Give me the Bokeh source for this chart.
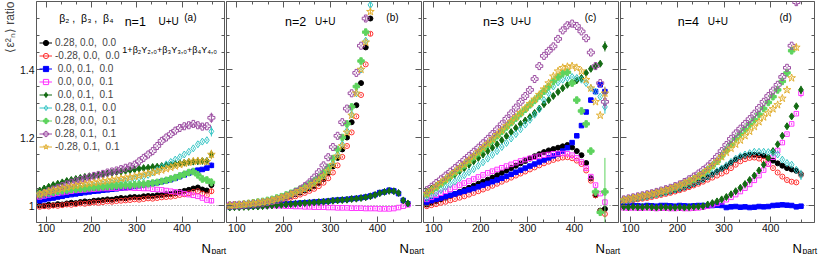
import numpy as np
from bokeh.plotting import figure
from bokeh.models import (Range1d, FixedTicker, LinearAxis, Label, Legend, LegendItem,
                          Span, ColumnDataSource, NumeralTickFormatter, Title)
from bokeh.layouts import row, column
from bokeh.embed import file_html
from bokeh.resources import INLINE

N = None
FONT = "Liberation Sans"
FRAME = "#5a5a5a"

npart = [85, 95, 105, 115, 125, 135, 145, 155, 165, 175, 185, 195, 205, 215, 225,
         235, 245, 255, 265, 275, 285, 295, 305, 315, 325, 335, 345, 355, 365, 375,
         385, 395, 405, 415, 425, 435, 445, 455, 465]

x_ticks = [100, 200, 300, 400]
y_ticks = [1.0, 1.2, 1.4]

beta_labels = ["0.28, 0.0,\u00a0\u00a00.0", "-0.28, 0.0,\u00a0\u00a00.0", "\u00a00.0, 0.1,\u00a0\u00a00.0",
               "\u00a00.0, 0.0,\u00a0\u00a00.1", "\u00a00.0, 0.1,\u00a0\u00a00.1", "0.28, 0.1,\u00a0\u00a00.0",
               "0.28, 0.0,\u00a0\u00a00.1", "0.28, 0.1,\u00a0\u00a00.1", "-0.28, 0.1,\u00a0\u00a00.1"]
colors = ["#000000", "#ff3030", "#0000ff", "#ff33ff", "#136b13", "#33c4c4", "#5ed35e", "#9c4ea2", "#e2b032"]
markers = ["circle", "circle", "square", "square", "diamond", "diamond", "plus", "plus", "star"]
filled = [True, False, True, False, True, False, True, False, False]
sizes = [5, 5, 4.5, 4.5, 7, 7, 6.5, 7, 8]

# ---- n = 1 ----
n1_s1 = [1.000, 0.999, 1.002, 1.001, 1.004, 1.003, 1.006, 1.008, 1.007, 1.010, 1.012, 1.011, 1.014, 1.015, 1.016, 1.018, 1.017, 1.020, 1.022, 1.021, 1.024, 1.025, 1.024, 1.027, 1.028, 1.028, 1.030, 1.031, 1.033, 1.034, 1.036, 1.040, 1.043, 1.046, 1.050, 1.053, 1.047, 1.044, 1.060]
n1_s2 = [0.996, 0.998, 0.997, 1.000, 0.999, 1.001, 1.003, 1.002, 1.004, 1.006, 1.005, 1.007, 1.009, 1.008, 1.010, 1.012, 1.011, 1.013, 1.014, 1.015, 1.016, 1.018, 1.017, 1.019, 1.021, 1.020, 1.022, 1.024, 1.025, 1.026, 1.028, 1.031, 1.033, 1.036, 1.040, 1.042, 1.035, 1.030, 1.042]
n1_s3 = [1.014, 1.017, 1.020, 1.022, 1.025, 1.027, 1.030, 1.032, 1.034, 1.036, 1.038, 1.040, 1.042, 1.043, 1.045, 1.046, 1.048, 1.049, 1.051, 1.052, 1.054, 1.056, 1.058, 1.060, 1.062, 1.065, 1.067, 1.070, 1.073, 1.076, 1.080, 1.085, 1.090, 1.095, 1.100, 1.104, 1.106, 1.110, 1.118]
n1_s4 = [1.025, 1.028, 1.031, 1.034, 1.036, 1.038, 1.040, 1.042, 1.044, 1.045, 1.046, 1.047, 1.048, 1.049, 1.050, 1.050, 1.051, 1.051, 1.052, 1.052, 1.052, 1.051, 1.051, 1.050, 1.050, 1.048, 1.047, 1.046, 1.044, 1.042, 1.040, 1.038, 1.035, 1.032, 1.030, 1.027, 1.022, 1.016, 1.014]
n1_s5 = [1.044, 1.050, 1.055, 1.060, 1.064, 1.068, 1.072, 1.075, 1.078, 1.081, 1.084, 1.086, 1.088, 1.090, 1.092, 1.094, 1.096, 1.098, 1.100, 1.102, 1.104, 1.106, 1.108, 1.110, 1.111, 1.113, 1.114, 1.116, 1.118, 1.120, 1.122, 1.124, 1.126, 1.128, 1.129, 1.130, 1.131, 1.131, 1.150]
n1_s6 = [1.029, 1.032, 1.035, 1.038, 1.040, 1.043, 1.045, 1.047, 1.050, 1.052, 1.054, 1.056, 1.058, 1.060, 1.062, 1.064, 1.066, 1.068, 1.070, 1.073, 1.076, 1.079, 1.082, 1.085, 1.090, 1.097, 1.105, 1.113, 1.121, 1.128, 1.135, 1.142, 1.150, 1.158, 1.168, 1.180, 1.188, 1.192, 1.218]
n1_s7 = [1.034, 1.036, 1.038, 1.040, 1.042, 1.044, 1.046, 1.047, 1.048, 1.049, 1.050, 1.052, 1.053, 1.054, 1.055, 1.056, 1.057, 1.058, 1.059, 1.060, 1.060, 1.061, 1.062, 1.063, 1.064, 1.066, 1.068, 1.071, 1.074, 1.078, 1.082, 1.087, 1.092, 1.097, 1.100, 1.090, 1.078, 1.075, 1.068]
n1_s8 = [1.030, 1.036, 1.042, 1.047, 1.052, 1.057, 1.062, 1.067, 1.071, 1.075, 1.079, 1.083, 1.087, 1.090, 1.093, 1.097, 1.100, 1.103, 1.107, 1.111, 1.115, 1.120, 1.130, 1.140, 1.150, 1.160, 1.175, 1.190, 1.200, 1.210, 1.220, 1.228, 1.233, 1.236, 1.240, 1.236, 1.232, 1.233, 1.258]
n1_s9 = [1.033, 1.037, 1.041, 1.044, 1.047, 1.050, 1.053, 1.056, 1.058, 1.061, 1.063, 1.065, 1.067, 1.069, 1.071, 1.073, 1.075, 1.077, 1.079, 1.081, 1.083, 1.085, 1.088, 1.091, 1.094, 1.097, 1.100, 1.104, 1.108, 1.112, 1.116, 1.120, 1.124, 1.127, 1.130, 1.131, 1.130, 1.129, 1.150]

# ---- n = 2 ----
n2_s1 = [1.000, 1.000, 1.002, 1.002, 1.004, 1.005, 1.007, 1.009, 1.011, 1.014, 1.017, 1.020, 1.024, 1.028, 1.033, 1.038, 1.044, 1.050, 1.057, 1.066, 1.078, 1.095, 1.115, 1.140, 1.165, 1.200, 1.245, 1.295, 1.360, 1.465, 1.550, N, N, N, N, N, N, N, N]
n2_s2 = [0.997, 0.998, 0.999, 1.000, 1.001, 1.002, 1.004, 1.006, 1.008, 1.010, 1.013, 1.016, 1.019, 1.023, 1.027, 1.032, 1.037, 1.043, 1.049, 1.057, 1.067, 1.080, 1.097, 1.118, 1.143, 1.175, 1.215, 1.262, 1.325, 1.415, 1.505, N, N, N, N, N, N, N, N]
n2_s3 = [0.996, 0.997, 0.997, 0.998, 0.998, 0.999, 0.999, 1.000, 1.000, 1.001, 1.002, 1.003, 1.004, 1.005, 1.006, 1.007, 1.008, 1.009, 1.010, 1.011, 1.012, 1.013, 1.015, 1.016, 1.017, 1.018, 1.020, 1.021, 1.023, 1.025, 1.028, 1.032, 1.038, 1.040, 1.045, 1.043, 1.035, 1.015, 1.005]
n2_s4 = [1.002, 1.003, 1.003, 1.003, 1.002, 1.002, 1.001, 1.001, 1.000, 1.000, 0.999, 0.999, 0.998, 0.998, 0.997, 0.997, 0.996, 0.996, 0.995, 0.995, 0.995, 0.994, 0.994, 0.993, 0.993, 0.993, 0.992, 0.992, 0.992, 0.991, 0.991, 0.991, 0.990, 0.990, 0.990, 0.991, 0.994, 0.998, 1.002]
n2_s5 = [0.994, 0.995, 0.995, 0.996, 0.996, 0.997, 0.997, 0.998, 0.999, 1.000, 1.001, 1.002, 1.003, 1.004, 1.005, 1.006, 1.007, 1.008, 1.009, 1.010, 1.011, 1.012, 1.014, 1.015, 1.016, 1.017, 1.019, 1.020, 1.022, 1.024, 1.027, 1.031, 1.036, 1.040, 1.043, 1.042, 1.037, 1.015, 1.006]
n2_s6 = [1.001, 1.001, 1.002, 1.004, 1.005, 1.007, 1.009, 1.011, 1.013, 1.016, 1.020, 1.024, 1.028, 1.033, 1.038, 1.044, 1.050, 1.057, 1.066, 1.076, 1.088, 1.104, 1.124, 1.150, 1.180, 1.220, 1.268, 1.330, 1.400, 1.485, 1.590, N, N, N, N, N, N, N, N]
n2_s7 = [1.001, 1.002, 1.003, 1.004, 1.006, 1.008, 1.010, 1.012, 1.015, 1.018, 1.022, 1.026, 1.031, 1.036, 1.042, 1.048, 1.055, 1.063, 1.072, 1.083, 1.096, 1.112, 1.138, 1.165, 1.200, 1.240, 1.290, 1.350, 1.425, 1.510, N, N, N, N, N, N, N, N, N]
n2_s8 = [1.000, 1.001, 1.001, 1.002, 1.003, 1.005, 1.006, 1.008, 1.010, 1.013, 1.017, 1.021, 1.026, 1.032, 1.039, 1.047, 1.057, 1.068, 1.082, 1.098, 1.118, 1.142, 1.172, 1.205, 1.245, 1.285, 1.330, 1.390, 1.470, 1.550, N, N, N, N, N, N, N, N, N]
n2_s9 = [1.000, 1.001, 1.002, 1.003, 1.005, 1.006, 1.008, 1.010, 1.012, 1.015, 1.019, 1.023, 1.027, 1.032, 1.037, 1.043, 1.049, 1.056, 1.064, 1.074, 1.086, 1.101, 1.120, 1.145, 1.175, 1.215, 1.265, 1.330, 1.400, 1.480, 1.570, N, N, N, N, N, N, N, N]

# ---- n = 3 ----
n3_s1 = [1.003, 1.008, 1.013, 1.018, 1.023, 1.028, 1.034, 1.040, 1.046, 1.052, 1.058, 1.064, 1.070, 1.076, 1.082, 1.089, 1.096, 1.103, 1.110, 1.117, 1.124, 1.131, 1.138, 1.145, 1.151, 1.157, 1.162, 1.166, 1.170, 1.174, 1.178, 1.171, 1.160, 1.148, 1.125, 1.080, 1.030, 0.985, 0.990]
n3_s2 = [0.998, 1.001, 1.004, 1.008, 1.011, 1.015, 1.019, 1.023, 1.027, 1.032, 1.037, 1.042, 1.047, 1.052, 1.058, 1.064, 1.070, 1.076, 1.082, 1.088, 1.094, 1.100, 1.106, 1.112, 1.118, 1.124, 1.129, 1.134, 1.138, 1.141, 1.142, 1.139, 1.132, 1.122, 1.103, 1.073, 1.030, 0.983, 0.975]
n3_s3 = [1.010, 1.014, 1.018, 1.022, 1.026, 1.030, 1.034, 1.038, 1.042, 1.046, 1.050, 1.055, 1.060, 1.065, 1.070, 1.075, 1.080, 1.086, 1.092, 1.098, 1.104, 1.110, 1.116, 1.122, 1.128, 1.134, 1.140, 1.146, 1.152, 1.160, 1.170, 1.185, 1.205, 1.235, 1.275, 1.310, 1.335, 1.355, 1.335]
n3_s4 = [1.018, 1.024, 1.030, 1.036, 1.042, 1.048, 1.054, 1.060, 1.066, 1.072, 1.078, 1.084, 1.090, 1.096, 1.101, 1.106, 1.111, 1.116, 1.121, 1.126, 1.131, 1.135, 1.139, 1.142, 1.145, 1.148, 1.150, 1.152, 1.153, 1.153, 1.152, 1.148, 1.140, 1.128, 1.110, 1.085, 1.060, 1.035, 1.010]
n3_s5 = [1.040, 1.050, 1.058, 1.066, 1.074, 1.083, 1.092, 1.101, 1.110, 1.120, 1.130, 1.140, 1.150, 1.160, 1.170, 1.180, 1.192, 1.204, 1.216, 1.228, 1.240, 1.250, 1.260, 1.272, 1.285, 1.298, 1.310, 1.322, 1.334, 1.345, 1.355, 1.362, 1.368, 1.375, 1.390, 1.402, 1.410, 1.417, 1.468]
n3_s6 = [1.022, 1.030, 1.038, 1.046, 1.054, 1.062, 1.071, 1.080, 1.089, 1.098, 1.107, 1.117, 1.127, 1.138, 1.149, 1.160, 1.172, 1.184, 1.197, 1.210, 1.224, 1.238, 1.252, 1.267, 1.283, 1.310, 1.330, 1.350, 1.362, 1.370, 1.375, 1.378, 1.375, 1.370, 1.360, 1.345, 1.335, 1.320, 1.290]
n3_s7 = [1.034, 1.044, 1.054, 1.064, 1.075, 1.086, 1.097, 1.108, 1.119, 1.131, 1.143, 1.155, 1.167, 1.180, 1.192, 1.205, 1.218, 1.231, 1.244, 1.257, 1.270, 1.283, 1.296, 1.309, 1.322, 1.336, 1.350, 1.365, 1.378, 1.388, 1.392, 1.360, 1.310, 1.278, 1.240, 1.160, 1.040, 0.980, 1.040]
n3_s8 = [1.045, 1.055, 1.066, 1.077, 1.088, 1.099, 1.110, 1.122, 1.134, 1.146, 1.158, 1.170, 1.183, 1.196, 1.210, 1.224, 1.239, 1.255, 1.271, 1.288, 1.305, 1.322, 1.340, 1.372, 1.410, 1.440, 1.455, 1.468, 1.490, 1.515, 1.530, 1.535, 1.528, 1.512, 1.492, 1.450, 1.410, 1.360, 1.305]
n3_s9 = [1.035, 1.045, 1.056, 1.067, 1.077, 1.088, 1.099, 1.110, 1.121, 1.133, 1.145, 1.157, 1.170, 1.182, 1.195, 1.208, 1.221, 1.234, 1.247, 1.260, 1.273, 1.286, 1.299, 1.312, 1.326, 1.342, 1.360, 1.380, 1.395, 1.405, 1.408, 1.410, 1.405, 1.395, 1.370, 1.345, 1.305, 1.265, 1.330]

# ---- n = 4 ----
n4_s1 = [1.015, 1.017, 1.019, 1.021, 1.023, 1.026, 1.029, 1.032, 1.035, 1.038, 1.041, 1.045, 1.049, 1.053, 1.058, 1.063, 1.069, 1.076, 1.083, 1.091, 1.099, 1.107, 1.115, 1.125, 1.135, 1.142, 1.146, 1.149, 1.149, 1.148, 1.146, 1.140, 1.132, 1.124, 1.117, 1.110, 1.106, 1.102, 1.092]
n4_s2 = [1.012, 1.014, 1.016, 1.018, 1.020, 1.022, 1.025, 1.028, 1.031, 1.034, 1.037, 1.041, 1.045, 1.049, 1.054, 1.059, 1.064, 1.070, 1.076, 1.082, 1.088, 1.094, 1.100, 1.110, 1.120, 1.130, 1.136, 1.140, 1.141, 1.138, 1.132, 1.122, 1.110, 1.097, 1.085, 1.075, 1.070, 1.068, 1.090]
n4_s3 = [0.999, 0.998, 1.000, 0.999, 0.998, 1.000, 0.999, 0.998, 1.000, 1.000, 0.999, 0.998, 1.000, 0.999, 0.998, 0.999, 1.000, 1.000, 0.999, 1.000, 1.001, 1.000, 0.994, 0.996, 0.997, 0.995, 0.996, 0.994, 0.995, 0.997, 0.996, 0.997, 1.000, 1.001, 1.002, 1.001, 1.000, 0.996, 0.998]
n4_s4 = [0.993, 0.992, 0.993, 0.992, 0.992, 0.993, 0.992, 0.991, 0.992, 0.992, 0.991, 0.991, 0.992, 0.991, 0.991, 0.992, 0.993, 0.995, 0.998, 1.002, 1.006, 1.011, 1.017, 1.024, 1.032, 1.041, 1.051, 1.062, 1.074, 1.088, 1.104, 1.122, 1.142, 1.162, 1.185, 1.210, 1.240, 1.270, 1.330]
n4_s5 = [0.996, 0.995, 0.996, 0.995, 0.995, 0.996, 0.995, 0.994, 0.995, 0.995, 0.994, 0.994, 0.995, 0.994, 0.995, 0.996, 0.997, 0.998, 1.003, 1.007, 1.012, 1.018, 1.025, 1.033, 1.042, 1.052, 1.063, 1.075, 1.088, 1.103, 1.120, 1.140, 1.160, 1.180, 1.205, 1.233, 1.262, 1.292, 1.340]
n4_s6 = [1.016, 1.018, 1.020, 1.022, 1.024, 1.027, 1.030, 1.033, 1.036, 1.039, 1.043, 1.047, 1.051, 1.055, 1.060, 1.065, 1.071, 1.078, 1.085, 1.093, 1.101, 1.109, 1.118, 1.128, 1.138, 1.145, 1.150, 1.154, 1.158, 1.158, 1.158, 1.157, 1.155, 1.150, 1.135, 1.125, 1.120, 1.105, 1.090]
n4_s7 = [1.017, 1.019, 1.022, 1.025, 1.028, 1.031, 1.034, 1.037, 1.041, 1.045, 1.049, 1.054, 1.059, 1.065, 1.071, 1.078, 1.086, 1.095, 1.105, 1.117, 1.130, 1.146, 1.163, 1.180, 1.196, 1.210, 1.224, 1.238, 1.252, 1.268, 1.285, 1.303, 1.320, 1.340, 1.365, 1.390, 1.455, N, N]
n4_s8 = [1.018, 1.021, 1.024, 1.027, 1.030, 1.033, 1.036, 1.040, 1.044, 1.048, 1.052, 1.057, 1.062, 1.069, 1.077, 1.085, 1.094, 1.104, 1.115, 1.128, 1.143, 1.160, 1.178, 1.196, 1.212, 1.226, 1.240, 1.254, 1.270, 1.287, 1.305, 1.322, 1.338, 1.355, 1.378, 1.405, 1.470, 1.598, N]
n4_s9 = [1.016, 1.019, 1.022, 1.025, 1.028, 1.031, 1.034, 1.037, 1.041, 1.045, 1.049, 1.054, 1.059, 1.065, 1.071, 1.078, 1.085, 1.094, 1.105, 1.117, 1.130, 1.143, 1.156, 1.168, 1.180, 1.192, 1.205, 1.218, 1.232, 1.246, 1.260, 1.272, 1.284, 1.296, 1.315, 1.340, 1.375, 1.465, N]

# error of the last point of each series (other points: ERR_BASE)
ERR_BASE = 0.003
err_end_n1 = [0.008, 0.008, 0.008, 0.007, 0.012, 0.015, 0.012, 0.015, 0.014]
err_end_n2 = [0.006, 0.006, 0.006, 0.006, 0.006, 0.008, 0.008, 0.008, 0.008]
err_end_n3 = [0.010, 0.010, 0.012, 0.010, 0.015, 0.020, 0.100, 0.020, 0.020]
err_end_n4 = [0.010, 0.010, 0.006, 0.012, 0.012, 0.015, 0.010, 0.010, 0.010]

panel_series = [
    [n1_s1, n1_s2, n1_s3, n1_s4, n1_s5, n1_s6, n1_s7, n1_s8, n1_s9],
    [n2_s1, n2_s2, n2_s3, n2_s4, n2_s5, n2_s6, n2_s7, n2_s8, n2_s9],
    [n3_s1, n3_s2, n3_s3, n3_s4, n3_s5, n3_s6, n3_s7, n3_s8, n3_s9],
    [n4_s1, n4_s2, n4_s3, n4_s4, n4_s5, n4_s6, n4_s7, n4_s8, n4_s9],
]
panel_err = [err_end_n1, err_end_n2, err_end_n3, err_end_n4]
panel_n = ["n=1", "n=2", "n=3", "n=4"]
panel_tag = ["(a)", "(b)", "(c)", "(d)"]
n_x = [273, 203, 205, 201]
uu_x = [348, 267, 264, 265]
tag_x = [405, 419, 422, 419]

# x titles (N_part) in the strip under the panels: pixel positions in that strip
ntitle_x = [201, 399, 595, 792]
part_x = [211, 409, 605, 802]

X_RANGE = (78, 494)
Y_RANGE = (0.95, 1.6)
x_minor = [100 + 100 * k / 3 for k in range(-1, 13)]
y_minor = [round(0.95 + 0.05 * k, 2) for k in range(14)]

# figure geometry: (width, border_left, border_right)
geom = [(225, 29, 1), (197, 1, 1), (197, 1, 1), (196, 1, 1)]
PANEL_H = 235
STRIP_H = 19


def tick_style(ax):
    ax.major_tick_out = 0
    ax.minor_tick_out = 0
    ax.axis_line_color = None
    ax.major_tick_line_color = FRAME
    ax.minor_tick_line_color = FRAME


def labelled_axis(ax, ticks, minor):
    ax.ticker = FixedTicker(ticks=ticks, minor_ticks=minor)
    tick_style(ax)
    ax.major_tick_in = 6
    ax.minor_tick_in = 3
    ax.major_label_text_font = FONT
    ax.major_label_text_font_size = "10.5px"
    ax.major_label_text_color = "#111111"
    ax.major_label_standoff = 1


def bare_axes(p, side, ticks, minor, existing=None):
    # tick marks only, no label texts: long marks at the main ticks, short ones between
    long_ax = existing if existing is not None else LinearAxis()
    long_ax.ticker = FixedTicker(ticks=[], minor_ticks=ticks)
    tick_style(long_ax)
    long_ax.minor_tick_in = 6
    long_ax.major_label_standoff = 0
    short_ax = LinearAxis(ticker=FixedTicker(ticks=[], minor_ticks=minor))
    tick_style(short_ax)
    short_ax.minor_tick_in = 3
    short_ax.major_label_standoff = 0
    if existing is None:
        p.add_layout(long_ax, side)
    p.add_layout(short_ax, side)


def label(p, x, y, text, size, align="left"):
    p.add_layout(Label(x=x, y=y, text=text, text_font=FONT, text_font_size=size,
                       text_color="black", text_align=align, text_baseline="alphabetic"))


figs = []
for k in range(4):
    w, bl, br = geom[k]
    p = figure(width=w, height=PANEL_H, x_range=Range1d(*X_RANGE), y_range=Range1d(*Y_RANGE),
               output_backend="svg", toolbar_location=None,
               min_border_left=bl, min_border_right=br, min_border_top=1, min_border_bottom=13)
    p.xgrid.visible = False
    p.ygrid.visible = False
    p.outline_line_color = FRAME
    p.outline_line_width = 1
    p.background_fill_color = "white"
    p.border_fill_color = "white"

    labelled_axis(p.xaxis[0], x_ticks, x_minor)
    if k == 0:
        labelled_axis(p.yaxis[0], y_ticks, y_minor)
        p.yaxis[0].major_label_standoff = 2
        p.yaxis[0].formatter = NumeralTickFormatter(format="0.[0]")
        p.add_layout(Title(text="\u27e8\u03b5\u00b2\u2099\u27e9 ratio", align="right", text_font=FONT,
                           text_font_size="12px", text_font_style="normal", standoff=0,
                           offset=0), "left")
    else:
        bare_axes(p, "left", y_ticks, y_minor, existing=p.yaxis[0])
    bare_axes(p, "above", x_ticks, x_minor)
    bare_axes(p, "right", y_ticks, y_minor)

    p.add_layout(Span(location=1.0, dimension="width", line_color="#8a8a8a",
                      line_dash="1 2", line_width=1, level="underlay"))

    seg_r, sc_r = [], []
    for i, ys in enumerate(panel_series[k]):
        assert len(ys) == len(npart), (k, i, len(ys))
        y = np.array([np.nan if v is None else v for v in ys], dtype=float)
        e = np.full(len(y), ERR_BASE)
        last = np.where(~np.isnan(y))[0][-1]
        e[last] = panel_err[k][i]
        src = ColumnDataSource(dict(x=npart, y=y, y0=y - e, y1=y + e))
        sr = p.segment("x", "y0", "x", "y1", source=src, line_color=colors[i], line_width=1)
        cr = p.scatter("x", "y", source=src, marker=markers[i], size=sizes[i],
                       line_color=colors[i], line_width=1,
                       fill_color=colors[i] if filled[i] else None)
        seg_r.append(sr)
        sc_r.append(cr)

    # panel texts
    label(p, n_x[k], 1.540, panel_n[k], "12.5px")
    label(p, uu_x[k], 1.541, "U+U", "10px")
    label(p, tag_x[k], 1.552, panel_tag[k], "10px")

    if k == 0:
        items = [LegendItem(label=beta_labels[i], renderers=[seg_r[i], sc_r[i]]) for i in range(9)]
        leg = Legend(items=items, location=(3, 69), border_line_color=None,
                     background_fill_alpha=0, padding=2, margin=0, spacing=0,
                     glyph_width=13, glyph_height=13, label_height=13, label_standoff=3,
                     label_text_font=FONT, label_text_font_size="10px")
        p.add_layout(leg)
        label(p, 128.5, 1.551, "\u03b2\u2082\u00a0,\u00a0\u00a0\u03b2\u2083\u00a0,\u00a0\u00a0\u03b2\u2084", "10.5px")
        label(p, 268, 1.4565,
              "1+\u03b2\u2082Y\u2082,\u2080+\u03b2\u2083Y\u2083,\u2080+\u03b2\u2084Y\u2084,\u2080", "9px")
    figs.append(p)

# strip under the panels carrying the x titles "N_part"
strip = figure(width=822, height=STRIP_H, x_range=Range1d(0, 822), y_range=Range1d(0, STRIP_H),
               output_backend="svg", toolbar_location=None, min_border=0)
strip.axis.visible = False
strip.xgrid.visible = False
strip.ygrid.visible = False
strip.outline_line_color = None
strip.background_fill_color = "white"
for nx, px in zip(ntitle_x, part_x):
    label(strip, nx, 6.0, "N", "13px")
    label(strip, px, 4.0, "part", "8.5px")

layout = column(row(*figs), strip)
open("out.html", "w").write(file_html(layout, INLINE))
